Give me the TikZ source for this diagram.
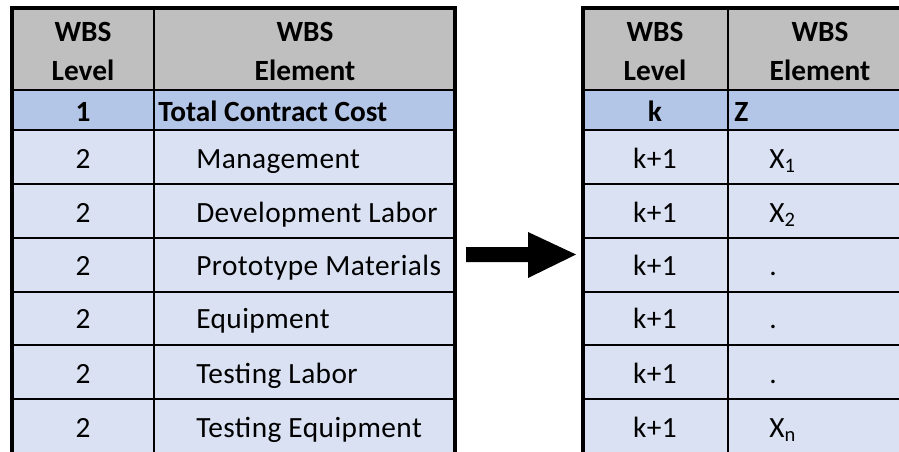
\documentclass[tikz,border=0pt]{standalone}
\usepackage{fontspec}
\setmainfont{Carlito}
\usetikzlibrary{positioning}

\definecolor{hdrgrey}{HTML}{BFBFBF}
\definecolor{toprow}{HTML}{B4C6E7}
\definecolor{subrow}{HTML}{D9E1F2}

\begin{document}
\begin{tikzpicture}[x=0.75pt,y=-0.75pt,
      cell/.style = {font=\fontsize{22}{26}\selectfont\addfontfeatures{LetterSpace=1.5},
         inner sep=0pt, anchor=base},
      hdr/.style = {cell, font=\fontsize{22}{26}\selectfont\bfseries},
      item/.style = {cell, anchor=base west},
      grid/.style = {line width=1.4pt},
      frame/.style = {line width=2.6pt}
]
   \clip (0,0) rectangle (899,451);

   % left table
   \fill[hdrgrey] (12,8)   rectangle (455,90);
   \fill[toprow]  (12,90)  rectangle (455,130);
   \fill[subrow]  (12,130) rectangle (455,460);

   \draw[line width=2.2pt] (12,90) -- (455,90);
   \draw[line width=1pt]   (12,130) -- (455,130);
   \foreach \y in {184,238,292,345,399}
      \draw[grid] (12,\y) -- (455,\y);
   \draw[line width=1.5pt] (154,8) -- (154,460);
   \draw[frame] (12,460) -- (12,8) -- (455,8) -- (455,460);

   \node[hdr] (lwbs1) at (83,41.5)  {WBS};
   \node[hdr] (llvl)  at (83,80.5)  {Level};
   \node[hdr] (lwbs2) at (305,41.5) {WBS};
   \node[hdr] (lelem) at (305,80.5) {Element};

   \node[hdr] (l1) at (83,121) {1};
   \node[hdr, anchor=base west] (total) at (158,121) {Total Contract Cost};

   \node[cell] (l2) at (83,168)   {2};
   \node[cell] (l3) at (83,222)   {2};
   \node[cell] (l4) at (83,275)   {2};
   \node[cell] (l5) at (83,328.5) {2};
   \node[cell] (l6) at (83,383)   {2};
   \node[cell] (l7) at (83,437)   {2};

   \node[item] (mgmt)  at (196,168)   {Management};
   \node[item] (devl)  at (196,222)   {Development Labor};
   \node[item] (proto) at (196,275)   {Prototype Materials};
   \node[item] (equip) at (196,328.5) {Equipment};
   \node[item] (testl) at (196,383)   {Testing Labor};
   \node[item] (teste) at (196,437)   {Testing Equipment};

   % arrow between the tables
   \fill[black] (466,247) -- (528,247) -- (528,232) -- (576,254.5)
      -- (528,278) -- (528,262) -- (466,262) -- cycle;

   % right table
   \fill[hdrgrey] (583,8)   rectangle (910,90);
   \fill[toprow]  (583,90)  rectangle (910,130);
   \fill[subrow]  (583,130) rectangle (910,460);

   \draw[line width=2.2pt] (583,90) -- (910,90);
   \draw[line width=1pt]   (583,130) -- (910,130);
   \foreach \y in {184,238,292,345,399}
      \draw[grid] (583,\y) -- (910,\y);
   \draw[line width=1.1pt] (728,8) -- (728,460);
   \draw[frame] (583,460) -- (583,8) -- (910,8);

   \node[hdr] (rwbs1) at (655,41.5) {WBS};
   \node[hdr] (rlvl)  at (655,80.5) {Level};
   \node[hdr] (rwbs2) at (820,41.5) {WBS};
   \node[hdr] (relem) at (820,80.5) {Element};

   \node[hdr] (k0) at (655,121) {k};
   \node[hdr, anchor=base west] (zz) at (734,121) {Z};

   \node[cell] (k1) at (655,168)   {k+1};
   \node[cell] (k2) at (655,222)   {k+1};
   \node[cell] (k3) at (655,275)   {k+1};
   \node[cell] (k4) at (655,328.5) {k+1};
   \node[cell] (k5) at (655,383)   {k+1};
   \node[cell] (k6) at (655,437)   {k+1};

   \node[item] (x1) at (769,168) {X\textsubscript{1}};
   \node[item] (x2) at (769,222) {X\textsubscript{2}};
   \node[cell] (d1) at (773,275)   {.};
   \node[cell] (d2) at (773,328.5) {.};
   \node[cell] (d3) at (773,383)   {.};
   \node[item] (xn) at (769,437) {X\textsubscript{n}};
\end{tikzpicture}
\end{document}
